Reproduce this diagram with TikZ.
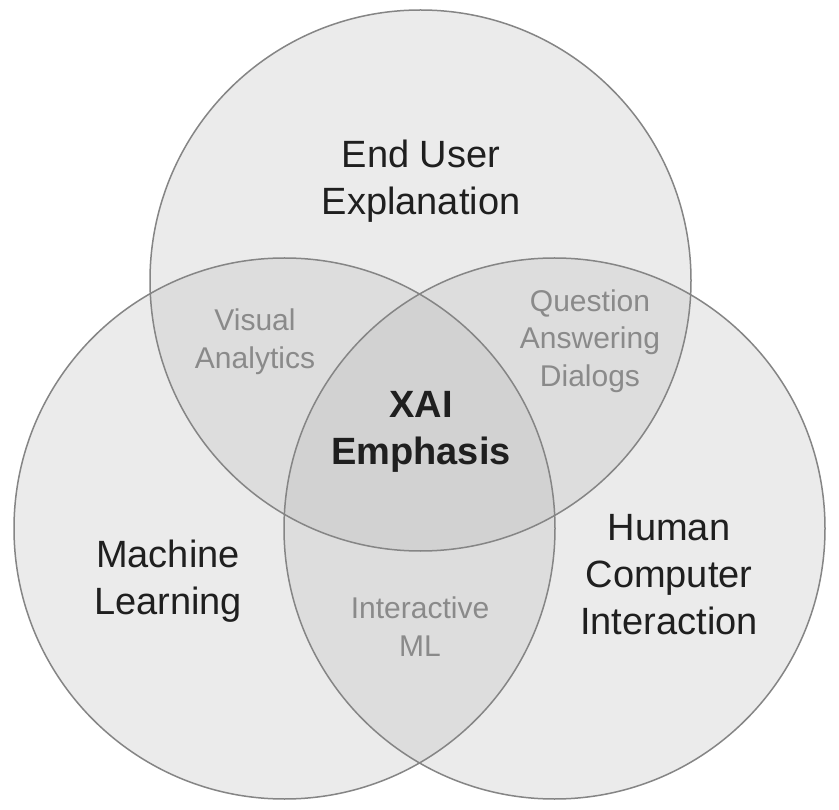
\documentclass[tikz,border=0pt]{standalone}
\usepackage{fontspec}
\setmainfont{Liberation Sans}
\begin{document}
\begin{tikzpicture}[x=1pt,y=-1pt,
  ring/.style={draw=ringgray,line width=1.5pt},
  mainlbl/.style={inner sep=0pt,align=center,text=black!88,font=\fontsize{38}{47}\selectfont},
  boldlbl/.style={mainlbl,font=\fontsize{38}{47}\selectfont\bfseries},
  minorlbl/.style={inner sep=0pt,align=center,text=labelgray,font=\fontsize{30}{37.5}\selectfont}]
\definecolor{ringgray}{HTML}{858585}
\definecolor{labelgray}{HTML}{8A8A8A}
\definecolor{onefill}{HTML}{EBEBEB}
\definecolor{twofill}{HTML}{DDDDDD}
\definecolor{threefill}{HTML}{D2D2D2}
\useasboundingbox (0,0) rectangle (839,810);
\fill[white] (0,0) rectangle (839,810);
\def\rad{270.5}
\coordinate (T) at (420.5,280.5);
\coordinate (L) at (284.5,528.5);
\coordinate (R) at (554.5,528.5);
% single fills
\fill[onefill] (T) circle (\rad);
\fill[onefill] (L) circle (\rad);
\fill[onefill] (R) circle (\rad);
% pair fills
\begin{scope}
  \clip (T) circle (\rad);
  \fill[twofill] (L) circle (\rad);
  \fill[twofill] (R) circle (\rad);
\end{scope}
\begin{scope}
  \clip (L) circle (\rad);
  \fill[twofill] (R) circle (\rad);
\end{scope}
% triple fill
\begin{scope}
  \clip (T) circle (\rad);
  \clip (L) circle (\rad);
  \fill[threefill] (R) circle (\rad);
\end{scope}
% outlines
\draw[ring] (T) circle (\rad);
\draw[ring] (L) circle (\rad);
\draw[ring] (R) circle (\rad);
% labels
\node[mainlbl] (eue) at (421,181.5) {End User\\Explanation};
\node[mainlbl] (ml) at (168,581.5) {Machine\\Learning};
\node[mainlbl] (hci) at (669,575) {Human\\Computer\\Interaction};
\node[boldlbl] (xai) at (421,431.5) {XAI\\Emphasis};
\node[minorlbl] (va) at (255,341.5) {Visual\\Analytics};
\node[minorlbl] (qad) at (590,341) {Question\\Answering\\Dialogs};
\node[minorlbl] (iml) at (420,626.5) {Interactive\\ML};
\end{tikzpicture}
\end{document}
